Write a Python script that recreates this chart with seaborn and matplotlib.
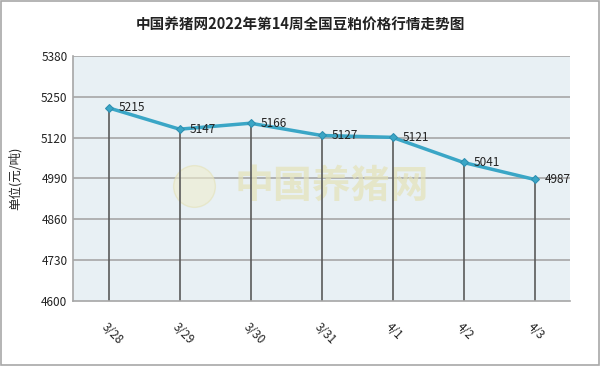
import matplotlib
matplotlib.use("Agg")
import matplotlib.pyplot as plt
import seaborn as sns
import pandas as pd
from matplotlib.patches import Rectangle

dates = ["3/28", "3/29", "3/30", "3/31", "4/1", "4/2", "4/3"]
prices = [5215, 5147, 5166, 5127, 5121, 5041, 4987]
yticks = [4600, 4730, 4860, 4990, 5120, 5250, 5380]

sns.set_style("white")
plt.rcParams['font.family'] = ['Noto Sans CJK SC', 'DejaVu Sans']

df = pd.DataFrame({"x": range(len(dates)), "date": dates, "price": prices})

fig = plt.figure(figsize=(6, 3.66), dpi=100)
fig.patches.append(Rectangle((0.002, 0.003), 0.996, 0.994, transform=fig.transFigure,
                             fill=False, edgecolor="#a8a8a8", linewidth=1.2))
ax = fig.add_axes([0.1217, 0.1776, 0.8283, 0.6694])
ax.set_facecolor("#e8f0f4")

for y in yticks[1:]:
    ax.axhline(y, color="#a6a6a6", linewidth=1.2, zorder=1)

# drop lines
ax.vlines(df["x"], 4600, df["price"], color="#5a5a5a", linewidth=1.2, zorder=2)

sns.lineplot(data=df, x="x", y="price", ax=ax, color="#3aa6c6", linewidth=2.5,
             marker="D", markersize=4, markeredgecolor="#2e8fb0", zorder=3)

for xi, p in zip(df["x"], prices):
    ax.text(xi + 0.14, p, str(p), fontsize=8.5, va="center", ha="left",
            color="#222222", zorder=4)

ax.text(3.15, 4965, "中国养猪网", fontsize=28, color="#e4e2b8", alpha=0.7,
        ha="center", va="center", fontweight="bold", zorder=1.5)
ax.plot([1.2], [4965], marker="o", markersize=30, markerfacecolor="#efedcf",
        markeredgecolor="#e4e2b8", alpha=0.6, zorder=1.5)

ax.set_xlim(-0.5, 6.5)
ax.set_ylim(4600, 5380)
ax.set_yticks(yticks)
ax.set_yticklabels([str(v) for v in yticks], fontsize=8.5, color="#222222")
ax.set_xticks(range(len(dates)))
ax.set_xticklabels(dates, rotation=-45, ha="left", rotation_mode="anchor",
                   fontsize=8.5, color="#222222")
ax.set_xticks([i + 0.5 for i in range(-1, 7)], minor=True)
ax.tick_params(axis="x", which="major", length=0, pad=14)
ax.tick_params(axis="x", which="minor", length=3, color="#a6a6a6", direction="in")
ax.tick_params(axis="y", length=0, pad=4)
ax.set_xlabel("")
ax.set_ylabel("单位(元/吨)", fontsize=9, labelpad=14, color="#222222")

for s in ["top", "right"]:
    ax.spines[s].set_visible(False)
ax.spines["left"].set_color("#a6a6a6")
ax.spines["bottom"].set_color("#a6a6a6")
ax.spines["left"].set_linewidth(1.2)
ax.spines["bottom"].set_linewidth(1.2)

fig.text(0.5, 0.932, "中国养猪网2022年第14周全国豆粕价格行情走势图", ha="center",
         va="center", fontsize=10.5, color="#222222", fontweight="bold")

fig.savefig("out.png", dpi=100)
